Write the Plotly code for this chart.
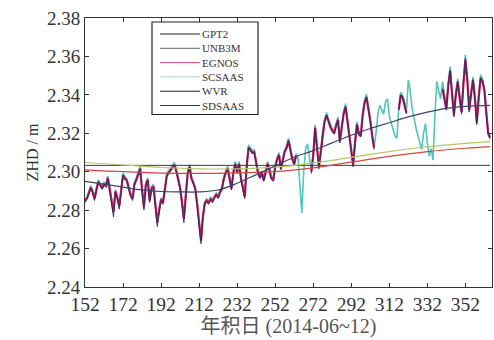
import plotly.graph_objects as go

days = list(range(152, 366))
N = None

wvr = [
    2.2840, 2.2855, 2.2880, 2.2915, 2.2890, 2.2850, 2.2900, 2.2945, 2.2925, 2.2910,
    2.2930, 2.2920, 2.2965, 2.2900, 2.2840, 2.2765, 2.2895, 2.2860, 2.2805, 2.2900,
    2.2980, 2.2960, 2.2950, 2.2910, 2.2870, 2.2850, 2.2930, 2.2955, 2.2980, 2.3015,
    2.2900, 2.2800, 2.2930, 2.2955, 2.2840, 2.2910, 2.2920, 2.2800, 2.2715, 2.2790,
    2.2850, 2.2830, 2.2900, 2.2975, 2.2990, 2.3005, 2.3015, 2.3035, 2.3000, 2.2960,
    2.2910, 2.2830, 2.2735, 2.2870, 2.2990, 2.3025, 2.2960, 2.2935, 2.2905, 2.2820,
    2.2700, 2.2625, 2.2760, 2.2830, 2.2845, 2.2830, 2.2855, 2.2840, 2.2860, 2.2875,
    2.2860, 2.2890, 2.2905, 2.2960, 2.2990, 2.3015, 2.2960, 2.2905, 2.2990, 2.3040,
    2.2990, 2.3040, 2.2960, 2.2900, 2.2860, 2.3020, 2.3125, 2.3110, 2.3095, 2.3100,
    2.3040, 2.2985, 2.2965, 2.2990, 2.2950, 2.3000, 2.3040, 2.3000, 2.2960, 2.2950,
    2.3020, 2.3060, 2.3085, 2.3010, 2.3060, 2.3100, 2.3120, 2.3160, 2.3110, 2.3060,
    2.3035, 2.3080, N, N, N, N, N, N, N, 2.2990,
    2.3080, 2.3230, 2.3120, 2.3015, 2.3100, 2.3200, 2.3260, 2.3295, 2.3260, 2.3230,
    2.3210, 2.3195, 2.3240, 2.3270, 2.3150, 2.3230, 2.3300, 2.3340, 2.3260, 2.3160,
    2.3080, 2.3025, 2.3150, 2.3245, 2.3190, 2.3180, 2.3290, 2.3360, 2.3390, 2.3330,
    2.3260, 2.3180, 2.3115, N, N, N, N, N, N, N,
    N, N, N, N, N, 2.3320, 2.3400, 2.3385, 2.3350, 2.3300,
    N, N, N, N, N, N, N, N, N, N,
    N, N, N, N, N, N, N, N, 2.3430, 2.3380,
    2.3320, 2.3450, 2.3530, 2.3400, 2.3285, 2.3400, 2.3470, 2.3380, 2.3300, 2.3460,
    2.3590, 2.3480, 2.3310, 2.3400, 2.3480, 2.3380, 2.3245, 2.3380, 2.3490, 2.3470,
    2.3420, 2.3300, 2.3190, 2.3170,
]

sdsaas = [
    2.2850, 2.2862, 2.2888, 2.2918, 2.2895, 2.2860, 2.2905, 2.2948, 2.2930, 2.2916,
    2.2934, 2.2926, 2.2968, 2.2906, 2.2850, 2.2790, 2.2898, 2.2866, 2.2820, 2.2905,
    2.2982, 2.2964, 2.2954, 2.2916, 2.2878, 2.2860, 2.2934, 2.2958, 2.2984, 2.3016,
    2.2906, 2.2815, 2.2934, 2.2958, 2.2850, 2.2914, 2.2924, 2.2812, 2.2735, 2.2800,
    2.2856, 2.2838, 2.2904, 2.2978, 2.2994, 2.3008, 2.3018, 2.3036, 2.3004, 2.2966,
    2.2916, 2.2840, 2.2755, 2.2876, 2.2992, 2.3026, 2.2964, 2.2940, 2.2910, 2.2830,
    2.2718, 2.2640, 2.2768, 2.2836, 2.2850, 2.2836, 2.2860, 2.2846, 2.2866, 2.2880,
    2.2866, 2.2894, 2.2910, 2.2964, 2.2994, 2.3018, 2.2966, 2.2912, 2.2994, 2.3042,
    2.2996, 2.3042, 2.2966, 2.2908, 2.2870, 2.3024, 2.3126, 2.3114, 2.3098, 2.3102,
    2.3046, 2.2992, 2.2970, 2.2994, 2.2956, 2.3004, 2.3042, 2.3006, 2.2966, 2.2956,
    2.3024, 2.3064, 2.3088, 2.3016, 2.3064, 2.3104, 2.3124, 2.3162, 2.3114, 2.3066,
    2.3040, 2.3084, N, N, N, N, N, N, N, 2.3000,
    2.3084, 2.3226, 2.3126, 2.3025, 2.3104, 2.3202, 2.3262, 2.3294, 2.3262, 2.3234,
    2.3214, 2.3200, 2.3242, 2.3270, 2.3158, 2.3234, 2.3302, 2.3338, 2.3264, 2.3168,
    2.3090, 2.3036, 2.3154, 2.3246, 2.3196, 2.3186, 2.3292, 2.3358, 2.3386, 2.3334,
    2.3266, 2.3188, 2.3124, N, N, N, N, N, N, N,
    N, N, N, N, N, 2.3324, 2.3398, 2.3386, 2.3352, 2.3306,
    N, N, N, N, N, N, N, N, N, N,
    N, N, N, N, N, N, N, N, 2.3432, 2.3384,
    2.3326, 2.3448, 2.3524, 2.3404, 2.3296, 2.3404, 2.3468, 2.3386, 2.3310, 2.3460,
    2.3580, 2.3480, 2.3320, 2.3404, 2.3476, 2.3386, 2.3256, 2.3384, 2.3486, 2.3470,
    2.3424, 2.3308, 2.3200, 2.3178,
]

scsaas = [
    2.2852, 2.2868, 2.2894, 2.2928, 2.2902, 2.2864, 2.2914, 2.2958, 2.2938, 2.2924,
    2.2944, 2.2934, 2.2978, 2.2914, 2.2854, 2.2790, 2.2908, 2.2874, 2.2822, 2.2914,
    2.2994, 2.2974, 2.2964, 2.2924, 2.2884, 2.2866, 2.2944, 2.2968, 2.2994, 2.3028,
    2.2914, 2.2818, 2.2944, 2.2968, 2.2856, 2.2924, 2.2934, 2.2816, 2.2734, 2.2806,
    2.2864, 2.2846, 2.2914, 2.2990, 2.3006, 2.3020, 2.3030, 2.3048, 2.3014, 2.2974,
    2.2924, 2.2846, 2.2752, 2.2884, 2.3004, 2.3038, 2.2974, 2.2948, 2.2918, 2.2834,
    2.2716, 2.2642, 2.2774, 2.2844, 2.2858, 2.2844, 2.2868, 2.2854, 2.2874, 2.2888,
    2.2874, 2.2904, 2.2918, 2.2974, 2.3004, 2.3028, 2.2974, 2.2918, 2.3004, 2.3054,
    2.3004, 2.3054, 2.2974, 2.2914, 2.2876, 2.3034, 2.3140, 2.3124, 2.3108, 2.3114,
    2.3054, 2.3000, 2.2980, 2.3004, 2.2964, 2.3014, 2.3054, 2.3014, 2.2974, 2.2964,
    2.3034, 2.3074, 2.3100, 2.3024, 2.3074, 2.3114, 2.3134, 2.3174, 2.3124, 2.3074,
    2.3050, 2.3094, 2.3070, 2.2950, 2.2785, 2.3000, 2.3120, 2.3145, 2.3060, 2.3004,
    2.3094, 2.3244, 2.3134, 2.3030, 2.3114, 2.3214, 2.3274, 2.3308, 2.3274, 2.3244,
    2.3224, 2.3210, 2.3254, 2.3284, 2.3164, 2.3244, 2.3314, 2.3354, 2.3274, 2.3174,
    2.3094, 2.3040, 2.3164, 2.3260, 2.3204, 2.3194, 2.3304, 2.3374, 2.3404, 2.3344,
    2.3274, 2.3194, 2.3128, 2.3200, 2.3300, 2.3345, 2.3320, 2.3300, 2.3365, 2.3380,
    2.3290, 2.3250, 2.3210, 2.3185, 2.3175, 2.3334, 2.3414, 2.3398, 2.3364, 2.3314,
    2.3478, 2.3420, 2.3330, 2.3270, 2.3230, 2.3190, 2.3150, 2.3115, 2.3200, 2.3250,
    2.3150, 2.3080, 2.3120, 2.3060, 2.3300, 2.3470, 2.3420, 2.3380, 2.3469, 2.3394,
    2.3334, 2.3464, 2.3547, 2.3414, 2.3298, 2.3414, 2.3484, 2.3394, 2.3314, 2.3474,
    2.3608, 2.3494, 2.3324, 2.3414, 2.3494, 2.3394, 2.3258, 2.3394, 2.3504, 2.3484,
    2.3434, 2.3314, 2.3204, 2.3184,
]

# smooth model curves
gpt2_days = [152, 162, 172, 182, 192, 202, 212, 222, 232, 242, 252, 262, 272, 282, 292, 302, 312, 322, 332, 342, 352, 365]
gpt2 = [2.2950, 2.2935, 2.2920, 2.2905, 2.2897, 2.2895, 2.2895, 2.2905, 2.2940, 2.2985, 2.3030,
        2.3075, 2.3110, 2.3150, 2.3190, 2.3225, 2.3255, 2.3285, 2.3310, 2.3330, 2.3340, 2.3345]

model_days = [152, 172, 192, 212, 232, 252, 272, 292, 312, 332, 352, 365]
egnos = [2.3010, 2.3000, 2.2993, 2.2991, 2.2994, 2.3000, 2.3020, 2.3050, 2.3080, 2.3105, 2.3122, 2.3131]
unb3m = [2.3048, 2.3035, 2.3022, 2.3015, 2.3015, 2.3024, 2.3045, 2.3075, 2.3105, 2.3130, 2.3148, 2.3157]
flat_days = [152, 365]
flat_ref = [2.3033, 2.3033]

x_ticks = [152, 172, 192, 212, 232, 252, 272, 292, 312, 332, 352]
y_ticks = [2.24, 2.26, 2.28, 2.30, 2.32, 2.34, 2.36, 2.38]

legend_names = ["GPT2", "UNB3M", "EGNOS", "SCSAAS", "WVR", "SDSAAS"]
legend_colors = ["#222222", "#666666", "#e0506a", "#9fd8d0", "#222222", "#333344"]

C_TEAL = "#52c6bb"
C_CRIM = "#c8185c"
C_NAVY = "#2a2b5a"
C_GPT2 = "#40406e"
C_RED = "#d8443c"
C_YG = "#b9c46a"

FONT = "Liberation Serif"
TXT = "#333333"

fig = go.Figure()
fig.add_trace(go.Scatter(x=days, y=scsaas, mode="lines", line=dict(color=C_TEAL, width=1.6), showlegend=False))
fig.add_trace(go.Scatter(x=days, y=sdsaas, mode="lines", line=dict(color=C_CRIM, width=2.2), showlegend=False))
fig.add_trace(go.Scatter(x=days, y=wvr, mode="lines", line=dict(color=C_NAVY, width=0.9), showlegend=False))
fig.add_trace(go.Scatter(x=flat_days, y=flat_ref, mode="lines", line=dict(color="#3a3a3a", width=1), showlegend=False))
fig.add_trace(go.Scatter(x=model_days, y=unb3m, mode="lines", line=dict(color=C_YG, width=1.2, shape="spline"), showlegend=False))
fig.add_trace(go.Scatter(x=model_days, y=egnos, mode="lines", line=dict(color=C_RED, width=1.2, shape="spline"), showlegend=False))
fig.add_trace(go.Scatter(x=gpt2_days, y=gpt2, mode="lines", line=dict(color=C_GPT2, width=1.2, shape="spline"), showlegend=False))

# plot area in pixels
W, H = 494, 340
L, R, T, B = 85, 2, 18, 53
pw, ph = W - L - R, H - T - B

def px(xp):
    return (xp - L) / pw

def py(yp):
    return (H - B - yp) / ph

LEG_FS = 11
row = LEG_FS * 1.3
first = 34
shapes = [dict(type="rect", xref="paper", yref="paper", x0=px(152), x1=px(258),
               y0=py(first + 5 * row + 9), y1=py(22),
               line=dict(color="#222222", width=1.2), fillcolor="white", layer="above")]
for i, col in enumerate(legend_colors):
    yy = first + i * row
    shapes.append(dict(type="line", xref="paper", yref="paper", x0=px(160), x1=px(200), y0=py(yy), y1=py(yy),
                       line=dict(color=col, width=1), layer="above"))
annotations = [dict(x=px(201), y=py(first - row / 2), xref="paper", yref="paper",
                    text="<br>".join(legend_names), showarrow=False, align="left",
                    xanchor="left", yanchor="top", borderpad=0,
                    font=dict(family=FONT, size=LEG_FS, color=TXT))]

fig.update_layout(
    width=W, height=H,
    margin=dict(l=L, r=R, t=T, b=B),
    paper_bgcolor="white", plot_bgcolor="white",
    showlegend=False,
    shapes=shapes, annotations=annotations,
    font=dict(family=FONT, color=TXT),
)
fig.update_xaxes(range=[152, 366], tickvals=x_ticks, ticktext=[str(v) for v in x_ticks],
                 showgrid=False, zeroline=False, showline=True, linecolor="#333333", linewidth=1,
                 mirror="ticks", ticks="inside", ticklen=4, tickcolor="#333333",
                 tickfont=dict(family=FONT, size=19.5, color=TXT),
                 title=dict(text="年积日 (2014-06~12)", font=dict(family="Liberation Serif, Noto Sans CJK SC", size=20, color="#555555"), standoff=2))
fig.update_yaxes(range=[2.24, 2.38], tickvals=y_ticks, ticktext=[f"{v:.2f}" for v in y_ticks],
                 showgrid=False, zeroline=False, showline=True, linecolor="#333333", linewidth=1,
                 mirror="ticks", ticks="inside", ticklen=4, tickcolor="#333333",
                 tickfont=dict(family=FONT, size=19, color=TXT),
                 title=dict(text="ZHD / m", font=dict(family=FONT, size=16, color=TXT), standoff=4))

assert len(wvr) == len(days) == len(sdsaas) == len(scsaas)
fig.write_html("out.html")
